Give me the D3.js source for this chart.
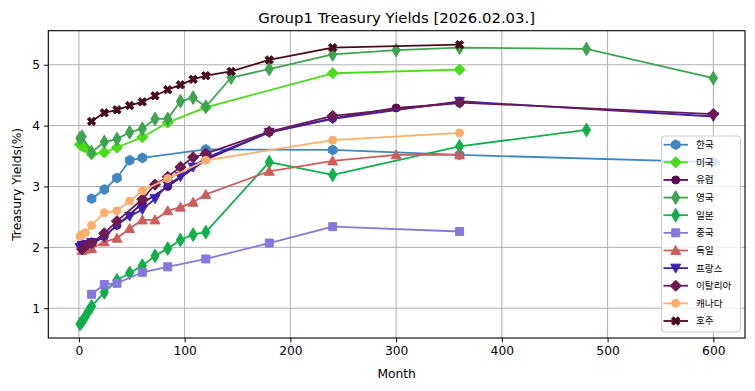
<!DOCTYPE html>
<html><head><meta charset="utf-8">
<script src="https://cdn.jsdelivr.net/npm/d3@7"></script>
<style>
body{margin:0;background:#fff;}
svg{display:block;}
</style></head>
<body>
<svg id="chart" width="755" height="391"></svg>
<script>
// ---- data ----
const seriesNames = ["한국","미국","유럽","영국","일본","중국","독일","프랑스","이탈리아","캐나다","호주"];
const krMonths = [12,24,36,48,60,120,240,360,600];
const krYields = [2.80,2.95,3.14,3.43,3.47,3.61,3.60,3.52,3.40];
const usMonths = [1,2,3,4,6,12,24,36,60,84,120,240,360];
const usYields = [3.69,3.68,3.67,3.66,3.64,3.53,3.56,3.64,3.81,4.05,4.30,4.86,4.92];
const euMonths = [3,6,12,24,36,60,84,120,180,240,300,360];
const euYields = [1.97,2.00,2.05,2.18,2.36,2.72,3.00,3.44,3.89,4.12,4.29,4.37];
const ukMonths = [1,3,12,24,36,48,60,72,84,96,108,120,144,180,240,300,360,480,600];
const ukYields = [3.79,3.82,3.56,3.73,3.78,3.89,3.95,4.11,4.11,4.40,4.46,4.31,4.79,4.93,5.17,5.24,5.28,5.26,4.78];
const jpMonths = [1,3,6,9,12,24,36,48,60,72,84,96,108,120,180,240,360,480];
const jpYields = [0.74,0.78,0.86,0.95,1.03,1.26,1.46,1.58,1.70,1.86,1.98,2.12,2.21,2.25,3.40,3.19,3.66,3.93];
const cnMonths = [12,24,36,60,84,120,180,240,360];
const cnYields = [1.23,1.39,1.41,1.59,1.68,1.81,2.07,2.34,2.26];
const deMonths = [3,6,12,24,36,48,60,72,84,96,108,120,180,240,300,360];
const deYields = [1.95,1.97,1.98,2.09,2.15,2.31,2.45,2.45,2.60,2.66,2.74,2.87,3.25,3.42,3.52,3.52];
const frMonths = [1,3,6,12,24,36,48,60,72,84,96,108,120,180,240,360,600];
const frYields = [2.00,2.03,2.05,2.08,2.17,2.37,2.51,2.62,2.80,3.03,3.16,3.32,3.47,3.89,4.11,4.40,4.15];
const itMonths = [3,6,12,24,36,60,72,84,96,108,120,180,240,360,600];
const itYields = [1.97,2.02,2.07,2.23,2.43,2.79,3.03,3.16,3.32,3.48,3.54,3.90,4.16,4.38,4.19];
const caMonths = [1,3,6,12,24,36,48,60,84,120,240,360];
const caYields = [2.18,2.21,2.24,2.36,2.57,2.60,2.76,2.93,3.13,3.43,3.76,3.88];
const auMonths = [12,24,36,48,60,72,84,96,108,120,144,180,240,360];
const auYields = [4.07,4.21,4.26,4.33,4.39,4.49,4.59,4.67,4.76,4.82,4.89,5.08,5.28,5.33];
const xTicks = [0,100,200,300,400,500,600];
const yTicks = [1,2,3,4,5];

const seriesMonths = [krMonths,usMonths,euMonths,ukMonths,jpMonths,cnMonths,deMonths,frMonths,itMonths,caMonths,auMonths];
const seriesYields = [krYields,usYields,euYields,ukYields,jpYields,cnYields,deYields,frYields,itYields,caYields,auYields];
const colors = ["#3f87c2","#47de17","#5c0a58","#3da44f","#0fb04a","#8478da","#cd5c5c","#3d20b4","#6d1a52","#fdae6b","#4a0a1e"];
const markers = ["h","D","o","d","d","s","^","v","D","o","X"];

// ---- layout ----
const L = 48.3, R = 745, T = 30.7, B = 338;
const svg = d3.select("#chart");
const allX = seriesMonths.flat(), allY = seriesYields.flat();
const xmin = d3.min(allX), xmax = d3.max(allX), ymin = d3.min(allY), ymax = d3.max(allY);
const xm = (xmax-xmin)*0.05, ym = (ymax-ymin)*0.05;
const x = d3.scaleLinear().domain([xmin-xm, xmax+xm]).range([L,R]);
const y = d3.scaleLinear().domain([ymin-ym, ymax+ym]).range([B,T]);

const font = "DejaVu Sans, sans-serif";

// grid
const g = svg.append("g");
g.selectAll(".gx").data(xTicks).enter().append("line")
  .attr("x1",d=>x(d)).attr("x2",d=>x(d)).attr("y1",T).attr("y2",B)
  .attr("stroke","#b0b0b0").attr("stroke-width",1);
g.selectAll(".gy").data(yTicks).enter().append("line")
  .attr("y1",d=>y(d)).attr("y2",d=>y(d)).attr("x1",L).attr("x2",R)
  .attr("stroke","#b0b0b0").attr("stroke-width",1);

// marker paths
function markerPath(m, s){
  const p = d3.path();
  if(m==="o"){ p.arc(0,0,s*0.5,0,2*Math.PI); p.closePath(); return p.toString(); }
  let pts=[];
  if(m==="D"){ const r=s*0.62; pts=[[0,-r],[r,0],[0,r],[-r,0]]; }
  else if(m==="d"){ const r=s*0.62; pts=[[0,-r],[r*0.6,0],[0,r],[-r*0.6,0]]; }
  else if(m==="s"){ const r=s*0.5; pts=[[-r,-r],[r,-r],[r,r],[-r,r]]; }
  else if(m==="^"){ const r=s*0.55; pts=[[0,-r],[r,r*0.8],[-r,r*0.8]]; }
  else if(m==="v"){ const r=s*0.55; pts=[[0,r],[r,-r*0.8],[-r,-r*0.8]]; }
  else if(m==="h"){ const r=s*0.55; for(let k=0;k<6;k++){const a=-Math.PI/2+k*Math.PI/3; pts.push([r*Math.cos(a),r*Math.sin(a)]);} }
  else if(m==="X"){ const a=s*0.47, t=a*0.5;
    pts=[[-a,-a+t],[-a+t,-a],[0,-t],[a-t,-a],[a,-a+t],[t,0],[a,a-t],[a-t,a],[0,t],[-a+t,a],[-a,a-t],[-t,0]];
  }
  p.moveTo(pts[0][0],pts[0][1]); for(let i=1;i<pts.length;i++) p.lineTo(pts[i][0],pts[i][1]); p.closePath();
  return p.toString();
}
const markerSize = {"o":8,"D":9,"d":11,"s":8,"^":9,"v":9,"h":9,"X":9};

// clip
svg.append("clipPath").attr("id","clip").append("rect").attr("x",L).attr("y",T).attr("width",R-L).attr("height",B-T);
const plot = svg.append("g").attr("clip-path","url(#clip)");
const line = d3.line().x(d=>x(d[0])).y(d=>y(d[1]));
seriesNames.forEach((name,i)=>{
  const pts = seriesMonths[i].map((m,j)=>[m, seriesYields[i][j]]);
  const sg = plot.append("g");
  sg.append("path").attr("d",line(pts)).attr("fill","none").attr("stroke",colors[i]).attr("stroke-width",1.8).attr("stroke-linejoin","round");
  sg.selectAll("path.m").data(pts).enter().append("path").attr("class","m")
    .attr("transform",d=>`translate(${x(d[0])},${y(d[1])})`)
    .attr("d",markerPath(markers[i],markerSize[markers[i]]))
    .attr("fill",colors[i]).attr("stroke",colors[i]).attr("stroke-width",1).attr("stroke-linejoin","round");
});

// axes
const xAxis = d3.axisBottom(x).tickValues(xTicks).tickSize(4.3).tickPadding(4).tickFormat(d3.format("d"));
const yAxis = d3.axisLeft(y).tickValues(yTicks).tickSize(4.3).tickPadding(4).tickFormat(d3.format("d"));
const gx = svg.append("g").attr("transform",`translate(0,${B})`).call(xAxis);
const gy = svg.append("g").attr("transform",`translate(${L},0)`).call(yAxis);
[gx,gy].forEach(a=>{
  a.select(".domain").remove();
  a.selectAll("text").attr("font-family",font).attr("font-size",12.3).attr("fill","#000");
  a.selectAll("line").attr("stroke","#000").attr("stroke-width",1);
});
// spines
svg.append("rect").attr("x",L).attr("y",T).attr("width",R-L).attr("height",B-T)
  .attr("fill","none").attr("stroke","#000").attr("stroke-width",1.1);

// labels
svg.append("text").attr("x",(L+R)/2).attr("y",23).attr("text-anchor","middle")
  .attr("font-family",font).attr("font-size",14.9).text("Group1 Treasury Yields [2026.02.03.]");
svg.append("text").attr("x",(L+R)/2).attr("y",378).attr("text-anchor","middle")
  .attr("font-family",font).attr("font-size",12.3).text("Month");
svg.append("text").attr("transform",`translate(21,${(T+B)/2}) rotate(-90)`).attr("text-anchor","middle")
  .attr("font-family",font).attr("font-size",12.3).text("Treasury Yields(%)");

// legend
const lg = svg.append("g");
lg.append("rect").attr("x",661.5).attr("y",136).attr("width",79).attr("height",196).attr("rx",3)
  .attr("fill","#fff").attr("fill-opacity",0.8).attr("stroke","#cccccc").attr("stroke-width",1);
seriesNames.forEach((name,i)=>{
  const cy = 144.7 + i*17.63;
  lg.append("line").attr("x1",663.5).attr("x2",688).attr("y1",cy).attr("y2",cy).attr("stroke",colors[i]).attr("stroke-width",1.8);
  lg.append("path").attr("transform",`translate(675.7,${cy})`).attr("d",markerPath(markers[i],markerSize[markers[i]]))
    .attr("fill",colors[i]).attr("stroke",colors[i]).attr("stroke-width",1).attr("stroke-linejoin","round");
  lg.append("text").attr("x",696).attr("y",cy+3.4).attr("font-family","Noto Sans CJK KR, sans-serif")
    .attr("font-size",9.6).attr("fill","#000").text(name);
});
</script>
</body></html>
